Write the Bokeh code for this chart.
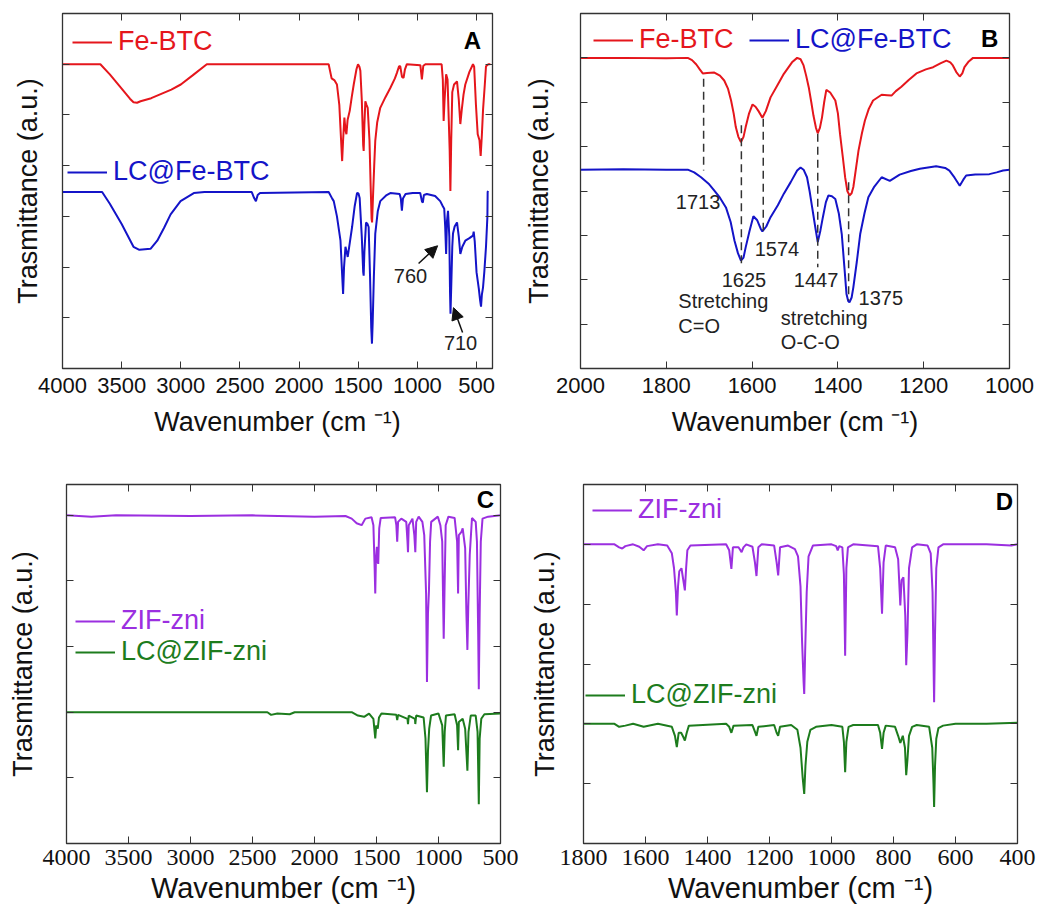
from bokeh.plotting import figure
from bokeh.layouts import row, column
from bokeh.models import (Range1d, FixedTicker, LinearAxis, CustomJSTickFormatter,
                          Legend, LegendItem, Label, Arrow, NormalHead)
from bokeh.embed import file_html
from bokeh.resources import INLINE

# ---------------- data ----------------
# Panel A : full range FTIR, Fe-BTC (red) and LC@Fe-BTC (blue)
a_fe_wn = [4000, 3680, 3600, 3500, 3430, 3400, 3370, 3340, 3250, 3170, 3080, 3000, 2900, 2780, 2200, 1750,
           1725, 1700, 1680, 1660, 1645, 1636, 1628, 1617, 1608, 1600, 1590, 1572, 1555, 1538,
           1515, 1502, 1490, 1482, 1470, 1458, 1454, 1448, 1440, 1430, 1420, 1405, 1395, 1387,
           1383, 1375, 1365, 1356, 1340, 1314, 1270, 1229, 1190, 1173, 1155, 1145, 1130, 1117,
           1105, 1089, 975, 962, 950, 930, 795, 785, 778, 770, 757, 745, 727, 721, 714, 705,
           690, 665, 650, 637, 625, 610, 595, 560, 530, 520, 505, 490, 475, 465, 455, 445, 430,
           420, 400, 383]
a_fe_t = [6.0, 6.0, 5.80, 5.52, 5.32, 5.25, 5.24, 5.27, 5.33, 5.41, 5.50, 5.60, 5.78, 6.0, 6.0, 6.0,
          5.72, 5.68, 5.60, 5.2, 4.5, 4.09, 4.5, 4.95, 4.7, 4.62, 4.9, 5.08, 5.35, 5.60,
          5.9, 6.0, 5.95, 5.87, 5.3, 4.4, 4.29, 4.8, 5.27, 5.2, 5.14, 4.5, 3.6, 2.95,
          2.88, 3.4, 4.0, 4.49, 4.85, 5.14, 5.35, 5.53, 5.72, 5.83, 5.96, 5.96, 5.75, 5.73,
          5.9, 6.0, 5.98, 5.70, 5.97, 6.0, 6.0, 5.7, 4.88, 5.3, 5.80, 5.7, 4.3, 3.50, 4.5, 5.45,
          5.6, 5.66, 5.3, 4.82, 5.1, 5.4, 5.60, 5.85, 6.0, 5.95, 5.2, 4.62, 4.5, 4.19, 4.6, 5.1, 5.6,
          5.96, 6.0, 6.0]
a_lc_wn = [4000, 3665, 3600, 3500, 3400, 3350, 3256, 3199, 3140, 3086, 3002, 2890, 2800, 2400,
           2380, 2365, 2350, 2330, 1750, 1720, 1707, 1680, 1650, 1635, 1628, 1620, 1608, 1598,
           1589, 1570, 1552, 1530, 1510, 1498, 1488, 1470, 1458, 1454, 1448, 1434, 1422, 1412,
           1400, 1390, 1384, 1378, 1368, 1356, 1335, 1314, 1260, 1229, 1150, 1140, 1131, 1122,
           1100, 1040, 976, 962, 954, 945, 920, 850, 807, 785, 773, 765, 757, 750, 741, 730,
           724, 720, 714, 705, 699, 685, 665, 650, 637, 620, 595, 560, 530, 524, 515, 500, 481,
           470, 462, 455, 445, 434, 420, 408, 406, 402]
a_lc_t = [3.48, 3.48, 3.25, 2.85, 2.40, 2.34, 2.36, 2.52, 2.78, 3.04, 3.30, 3.46, 3.48, 3.48,
          3.36, 3.30, 3.42, 3.46, 3.48, 3.35, 3.30, 3.0, 2.52, 1.8, 1.47, 2.0, 2.40, 2.3,
          2.20, 2.5, 2.79, 3.2, 3.46, 3.45, 3.36, 2.6, 1.9, 1.83, 2.3, 2.88, 2.85, 2.79,
          1.8, 0.8, 0.49, 0.9, 1.8, 2.66, 3.1, 3.30, 3.42, 3.46, 3.44, 3.35, 3.11, 3.35,
          3.44, 3.46, 3.46, 3.3, 3.27, 3.42, 3.44, 3.40, 3.30, 3.2, 3.15, 2.8, 2.26, 2.9, 3.11, 2.6,
          1.5, 1.08, 1.6, 2.4, 2.66, 2.8, 2.88, 2.6, 2.26, 2.4, 2.52, 2.57, 2.62, 2.70, 2.5, 1.9, 1.58,
          1.35, 1.22, 1.45, 1.6, 1.91, 2.4, 3.0, 3.48, 3.5]

# Panel B : 2000-1000 cm-1 zoom
b_fe_wn = [2000, 1900, 1800, 1750, 1740, 1730, 1722, 1715, 1705, 1688, 1675, 1665, 1656, 1649,
           1643, 1638, 1632, 1626, 1620, 1615, 1607, 1599, 1592, 1585, 1576, 1568, 1557, 1540,
           1526, 1507, 1495, 1487, 1480, 1474, 1468, 1462, 1457, 1451, 1447, 1442, 1437, 1432,
           1427, 1418, 1406, 1400, 1395, 1389, 1383, 1378, 1373, 1368, 1364, 1358, 1352, 1344,
           1337, 1328, 1318, 1298, 1285, 1275, 1265, 1252, 1235, 1217, 1195, 1178, 1160, 1147,
           1138, 1132, 1124, 1116, 1110, 1105, 1095, 1085, 1050, 1000]
b_fe_t = [7.0, 7.0, 6.99, 7.0, 6.95, 6.85, 6.74, 6.65, 6.66, 6.67, 6.60, 6.49, 6.3, 6.04,
          5.75, 5.44, 5.22, 5.10, 5.22, 5.44, 5.75, 5.95, 5.90, 5.80, 5.65, 5.80, 6.11, 6.40,
          6.64, 6.90, 7.0, 6.97, 6.83, 6.6, 6.34, 6.0, 5.70, 5.42, 5.30, 5.42, 5.66, 6.0,
          6.28, 6.22, 6.04, 5.75, 5.28, 4.8, 4.30, 4.0, 3.90, 3.95, 4.09, 4.5, 4.91, 5.3,
          5.59, 5.85, 6.04, 6.17, 6.16, 6.15, 6.25, 6.35, 6.5, 6.65, 6.74, 6.79, 6.88, 6.94,
          6.9, 6.83, 6.68, 6.58, 6.65, 6.79, 6.92, 7.0, 7.0, 7.0]
b_lc_wn = [2000, 1900, 1800, 1750, 1735, 1719, 1700, 1688, 1675, 1661, 1650, 1641, 1633, 1626,
           1620, 1615, 1606, 1597, 1588, 1580, 1576, 1567, 1557, 1540, 1526, 1510, 1495, 1487,
           1480, 1472, 1466, 1460, 1453, 1447, 1441, 1435, 1428, 1422, 1414, 1406, 1398, 1391,
           1385, 1380, 1376, 1373, 1368, 1364, 1356, 1348, 1338, 1329, 1315, 1298, 1279, 1256,
           1230, 1209, 1190, 1171, 1150, 1140, 1128, 1116, 1108, 1101, 1080, 1047, 1030, 1015, 1000]
b_lc_t = [4.48, 4.49, 4.48, 4.48, 4.42, 4.31, 4.15, 4.01, 3.85, 3.63, 3.3, 2.88, 2.6, 2.43,
          2.5, 2.73, 3.1, 3.43, 3.34, 3.15, 3.09, 3.2, 3.41, 3.68, 3.94, 4.2, 4.46, 4.53,
          4.48, 4.31, 4.0, 3.63, 3.2, 2.85, 3.1, 3.41, 3.75, 3.90, 3.88, 3.82, 3.5, 3.03,
          2.3, 1.68, 1.52, 1.49, 1.6, 1.83, 2.4, 3.03, 3.5, 3.86, 4.1, 4.31, 4.23, 4.37,
          4.45, 4.50, 4.53, 4.56, 4.52, 4.46, 4.3, 4.12, 4.25, 4.35, 4.37, 4.38, 4.42, 4.46, 4.48]
b_peak_wn = [1713, 1625, 1574, 1447, 1375]
b_peak_top = [6.53, 5.48, 5.63, 5.29, 4.20]
b_peak_bottom = [4.46, 2.28, 3.03, 2.28, 1.53]
b_peak_labels = ["1713", "1625", "1574", "1447", "1375"]
b_peak_label_wn = [1726, 1619, 1542, 1451, 1300]
b_peak_label_t = [3.76, 2.0, 2.70, 2.0, 1.58]
b_note_texts = ["Stretching", "C=O", "stretching", "O-C-O"]
b_note_wn = [1772, 1772, 1533, 1533]
b_note_t = [1.53, 0.95, 1.13, 0.59]

# Panel C : ZIF-zni (purple) and LC@ZIF-zni (green), 4000-500 cm-1
c_zif_wn = [4000, 3800, 3600, 3000, 2500, 2000, 1750, 1700, 1660, 1620, 1590, 1540, 1525, 1515,
            1510, 1505, 1497, 1490, 1486, 1478, 1466, 1350, 1340, 1333, 1326, 1300, 1260, 1250,
            1246, 1240, 1210, 1195, 1187, 1180, 1160, 1130, 1115, 1100, 1093, 1085, 1077, 1068,
            1059, 1005, 985, 970, 962, 958, 952, 942, 920, 870, 850, 842, 836, 815, 805, 785,
            775, 767, 760, 748, 730, 700, 690, 680, 675, 668, 659, 645, 600, 500]
c_zif_t = [5.0, 4.98, 5.0, 4.99, 5.0, 4.98, 4.99, 4.95, 4.88, 4.85, 4.95, 4.97, 4.85, 4.2,
           3.81, 4.3, 4.52, 4.3, 4.26, 4.8, 4.96, 4.97, 4.85, 4.60, 4.9, 4.95, 4.9, 4.6,
           4.44, 4.85, 4.95, 4.7, 4.44, 4.9, 4.98, 4.9, 4.7, 3.8, 2.46, 3.5, 3.85, 4.6,
           4.9, 4.98, 4.85, 4.6, 3.6, 3.12, 3.8, 4.85, 4.98, 4.96, 4.6, 3.81, 4.7, 4.75, 4.8, 4.5,
           3.5, 2.95, 3.6, 4.4, 4.96, 4.9, 4.6, 3.2, 2.35, 3.5, 4.6, 4.95, 4.98, 5.0]
c_lc_wn = [4000, 3000, 2380, 2350, 2300, 2200, 2160, 1700, 1650, 1600, 1560, 1525, 1515, 1510,
           1502, 1490, 1480, 1460, 1340, 1333, 1326, 1250, 1246, 1240, 1190, 1187, 1180, 1120,
           1105, 1093, 1085, 1075, 1060, 1000, 970, 958, 950, 940, 870, 850, 842, 836, 805, 785,
           767, 758, 740, 700, 685, 675, 668, 655, 630, 500]
c_lc_t = [2.0, 2.0, 2.0, 1.96, 1.98, 1.97, 2.0, 2.0, 1.95, 1.93, 1.98, 1.9, 1.7, 1.60,
          1.8, 1.75, 1.92, 1.98, 1.96, 1.88, 1.96, 1.9, 1.82, 1.95, 1.9, 1.82, 1.95, 1.92,
          1.6, 0.78, 1.4, 1.75, 1.95, 1.98, 1.8, 1.17, 1.7, 1.95, 1.97, 1.8, 1.42, 1.85, 1.9, 1.75,
          1.11, 1.7, 1.95, 1.95, 1.7, 0.60, 1.6, 1.9, 1.97, 1.98]

# Panel D : ZIF-zni (purple) and LC@ZIF-zni (green), 1800-400 cm-1
d_zif_wn = [1800, 1700, 1685, 1675, 1665, 1640, 1620, 1606, 1595, 1560, 1530, 1515, 1508, 1502,
            1499, 1495, 1491, 1484, 1478, 1473, 1469, 1465, 1455, 1340, 1330, 1323, 1318, 1300,
            1290, 1284, 1275, 1255, 1247, 1242, 1236, 1225, 1185, 1177, 1172, 1166, 1140, 1118,
            1108, 1100, 1095, 1090, 1088, 1085, 1080, 1074, 1060, 1000, 985, 980, 975, 965, 960,
            956, 952, 947, 930, 850, 843, 837, 832, 825, 795, 785, 780, 778, 774, 768, 762, 759,
            755, 750, 740, 725, 690, 680, 674, 670, 669, 666, 662, 655, 640, 500, 420, 400]
d_zif_t = [5.0, 5.0, 4.95, 4.93, 4.97, 5.0, 4.96, 4.9, 4.97, 5.0, 4.98, 4.85, 4.6, 4.2,
           3.81, 4.3, 4.55, 4.6, 4.4, 4.23, 4.6, 4.9, 4.98, 5.0, 4.9, 4.59, 4.95, 4.95,
           4.87, 4.95, 5.0, 4.96, 4.7, 4.47, 4.95, 5.0, 4.98, 4.7, 4.48, 4.95, 4.98, 4.92,
           4.8, 4.3, 3.39, 2.7, 2.50, 3.2, 4.2, 4.8, 4.98, 5.0, 4.97, 4.9, 4.97, 4.95, 4.5,
           3.14, 4.6, 4.95, 5.0, 4.97, 4.6, 3.84, 4.7, 4.98, 4.95, 4.75, 4.2, 3.98, 4.4, 4.45, 3.8, 2.98,
           3.5, 4.6, 4.95, 5.0, 4.98, 4.85, 4.2, 2.7, 2.36, 3.5, 4.6, 4.95, 5.0, 5.0, 4.98, 5.0]
d_lc_wn = [1800, 1700, 1685, 1665, 1640, 1606, 1560, 1515, 1505, 1499, 1493, 1485, 1478, 1473,
           1467, 1460, 1340, 1330, 1323, 1316, 1255, 1247, 1242, 1236, 1185, 1177, 1172, 1166,
           1130, 1110, 1100, 1093, 1088, 1084, 1078, 1068, 1050, 1000, 965, 960, 956, 952, 945,
           930, 850, 843, 837, 832, 825, 795, 785, 778, 770, 763, 759, 755, 750, 740, 725, 685,
           675, 671, 669, 666, 662, 655, 640, 600, 500, 400]
d_lc_t = [2.0, 2.0, 1.95, 1.97, 2.0, 1.95, 2.0, 1.95, 1.8, 1.61, 1.85, 1.85, 1.78, 1.72,
          1.85, 1.97, 2.0, 1.95, 1.85, 1.97, 1.98, 1.87, 1.80, 1.95, 1.98, 1.85, 1.80, 1.95,
          1.98, 1.9, 1.6, 1.1, 0.83, 1.3, 1.7, 1.9, 1.95, 1.98, 1.95, 1.7, 1.19, 1.7, 1.95,
          1.98, 1.98, 1.85, 1.58, 1.85, 1.97, 1.95, 1.8, 1.68, 1.8, 1.6, 1.14, 1.4, 1.8, 1.95, 1.98, 1.95,
          1.6, 1.0, 0.61, 1.3, 1.75, 1.93, 1.97, 2.0, 2.0, 2.02]

# axis ticks
a_xticks = [4000, 3500, 3000, 2500, 2000, 1500, 1000, 500]
b_xticks = [2000, 1800, 1600, 1400, 1200, 1000]
c_xticks = [4000, 3500, 3000, 2500, 2000, 1500, 1000, 500]
d_xticks = [1800, 1600, 1400, 1200, 1000, 800, 600, 400]
a_yticks = [1, 2, 3, 4, 5, 6]
b_yticks = [1, 2, 3, 4, 5, 6, 7]
c_yticks = [1, 2, 3, 4, 5]
d_yticks = [1, 2, 3, 4, 5]

# annotations in panel A
a_ann_text = ["760", "710"]
a_ann_wn = [1058, 635]
a_ann_t = [1.83, 0.51]
a_arrow_from = [(990, 2.07), (618, 0.71)]
a_arrow_to = [(829, 2.42), (695, 1.20)]

panel_letters = ["A", "B", "C", "D"]
letter_pos = [(534, 6.46), (1046, 7.44), (621, 5.24), (442, 5.72)]

RED = "#e5161c"
BLUE = "#1414c8"
PURPLE = "#9b2fe0"
GREEN = "#1d7c1d"
FONT = "Liberation Sans"
NARROW = "Liberation Sans Narrow"
XLABEL = "Wavenumber (cm \u207b\u00b9)"
YLABEL = "Trasmittance (a.u.)"


def blank():
    return CustomJSTickFormatter(code="return ''")


def make_fig(w, h, bl, br, bt, bb, xr, yr, xticks, yticks, tick_size, tick_font,
             lab_standoff, title_standoff, title_size, ylab_standoff):
    p = figure(width=w, height=h, x_range=Range1d(*xr), y_range=Range1d(*yr),
               output_backend="svg", toolbar_location=None,
               min_border_left=bl, min_border_right=br, min_border_top=bt, min_border_bottom=bb)
    p.xgrid.visible = False
    p.ygrid.visible = False
    p.outline_line_color = "#333333"
    p.outline_line_width = 1.3
    p.background_fill_color = "white"
    p.border_fill_color = "white"

    xa = p.xaxis[0]
    xa.ticker = FixedTicker(ticks=xticks)
    xa.major_tick_in = 7
    xa.major_tick_out = 0
    xa.minor_tick_line_color = None
    xa.axis_line_color = "#333333"
    xa.major_tick_line_color = "#333333"
    xa.major_label_text_font = tick_font
    xa.major_label_text_font_size = tick_size
    xa.major_label_text_color = "#111111"
    xa.major_label_standoff = lab_standoff
    xa.axis_label = XLABEL
    xa.axis_label_text_font = FONT
    xa.axis_label_text_font_size = title_size
    xa.axis_label_text_font_style = "normal"
    xa.axis_label_text_color = "#111111"
    xa.axis_label_standoff = title_standoff

    ya = p.yaxis[0]
    ya.ticker = FixedTicker(ticks=yticks)
    ya.formatter = blank()
    ya.major_tick_in = 7
    ya.major_tick_out = 0
    ya.minor_tick_line_color = None
    ya.axis_line_color = "#333333"
    ya.major_tick_line_color = "#333333"
    ya.major_label_standoff = 0
    ya.axis_label = YLABEL
    ya.axis_label_text_font = FONT
    ya.axis_label_text_font_size = "27px"
    ya.axis_label_text_font_style = "normal"
    ya.axis_label_text_color = "#111111"
    ya.axis_label_standoff = ylab_standoff

    top = LinearAxis(ticker=FixedTicker(ticks=xticks), formatter=blank(), major_tick_in=7,
                     major_tick_out=0, minor_tick_line_color=None, axis_line_color="#333333",
                     major_tick_line_color="#333333", major_label_standoff=0)
    right = LinearAxis(ticker=FixedTicker(ticks=yticks), formatter=blank(), major_tick_in=7,
                       major_tick_out=0, minor_tick_line_color=None, axis_line_color="#333333",
                       major_tick_line_color="#333333", major_label_standoff=0)
    p.add_layout(top, "above")
    p.add_layout(right, "right")
    return p


def add_legend(p, r, text, color, loc, standoff=6):
    lg = Legend(items=[LegendItem(label=text, renderers=[r])], location=loc,
                background_fill_alpha=0, border_line_alpha=0, padding=0, margin=0, spacing=0,
                glyph_width=40, glyph_height=24, label_height=24, label_standoff=standoff,
                label_text_font=FONT, label_text_font_size="27px", label_text_color=color,
                label_text_baseline="middle")
    p.add_layout(lg, "center")


def add_letter(p, i):
    x, y = letter_pos[i]
    p.add_layout(Label(x=x, y=y, text=panel_letters[i], text_font=FONT, text_font_size="24px",
                       text_font_style="bold", text_align="center", text_baseline="middle",
                       text_color="#000000"))


# ---------------- panel A ----------------
pA = make_fig(520, 470, 62, 28, 13, 102, (4000, 365), (0, 7), a_xticks, a_yticks,
              "22px", FONT, 9, 11, "27px", 20)
rA1 = pA.line(a_fe_wn, a_fe_t, line_color=RED, line_width=2)
rA2 = pA.line(a_lc_wn, a_lc_t, line_color=BLUE, line_width=2)
add_legend(pA, rA1, "Fe-BTC", RED, (10, 311))
add_legend(pA, rA2, "LC@Fe-BTC", BLUE, (5, 181))
for t, xw, yt in zip(a_ann_text, a_ann_wn, a_ann_t):
    pA.add_layout(Label(x=xw, y=yt, text=t, text_font=FONT, text_font_size="20px",
                        text_align="center", text_baseline="middle", text_color="#222222"))
for (x0, y0), (x1, y1) in zip(a_arrow_from, a_arrow_to):
    pA.add_layout(Arrow(x_start=x0, y_start=y0, x_end=x1, y_end=y1, line_width=1.5,
                        line_color="#111111",
                        end=NormalHead(size=12, fill_color="#111111", line_color="#111111")))
add_letter(pA, 0)

# ---------------- panel B ----------------
pB = make_fig(519, 470, 59, 30, 13, 102, (2000, 1000), (0, 8), b_xticks, b_yticks,
              "22px", FONT, 9, 11, "27px", 27)
rB1 = pB.line(b_fe_wn, b_fe_t, line_color=RED, line_width=2)
rB2 = pB.line(b_lc_wn, b_lc_t, line_color=BLUE, line_width=2)
pB.segment(x0=b_peak_wn, y0=b_peak_top, x1=b_peak_wn, y1=b_peak_bottom,
           line_color="#333333", line_width=1.5, line_dash="8 5")
add_legend(pB, rB1, "Fe-BTC", RED, (13, 313))
add_legend(pB, rB2, "LC@Fe-BTC", BLUE, (169, 313))
for t, xw, yt in zip(b_peak_labels, b_peak_label_wn, b_peak_label_t):
    pB.add_layout(Label(x=xw, y=yt, text=t, text_font=FONT, text_font_size="20px",
                        text_align="center", text_baseline="middle", text_color="#222222"))
for t, xw, yt in zip(b_note_texts, b_note_wn, b_note_t):
    pB.add_layout(Label(x=xw, y=yt, text=t, text_font=FONT, text_font_size="20px",
                        text_align="left", text_baseline="middle", text_color="#222222"))
add_letter(pB, 1)

# ---------------- panel C ----------------
pC = make_fig(520, 437, 66, 20, 14, 64, (4000, 500), (0, 5.47), c_xticks, c_yticks,
              "24px", NARROW, 6, 4, "29px", 29)
rC1 = pC.line(c_zif_wn, c_zif_t, line_color=PURPLE, line_width=2)
rC2 = pC.line(c_lc_wn, c_lc_t, line_color=GREEN, line_width=2)
add_legend(pC, rC1, "ZIF-zni", PURPLE, (9, 207))
add_legend(pC, rC2, "LC@ZIF-zni", GREEN, (9, 176))
add_letter(pC, 2)

# ---------------- panel D ----------------
pD = make_fig(519, 437, 63, 22, 14, 64, (1800, 400), (0, 6.0), d_xticks, d_yticks,
              "24px", NARROW, 6, 4, "29px", 24)
rD1 = pD.line(d_zif_wn, d_zif_t, line_color=PURPLE, line_width=2)
rD2 = pD.line(d_lc_wn, d_lc_t, line_color=GREEN, line_width=2)
add_legend(pD, rD1, "ZIF-zni", PURPLE, (9, 318))
add_legend(pD, rD2, "LC@ZIF-zni", GREEN, (2, 133))
add_letter(pD, 3)

layout = column(row(pA, pB), row(pC, pD))
open("out.html", "w").write(file_html(layout, INLINE))
